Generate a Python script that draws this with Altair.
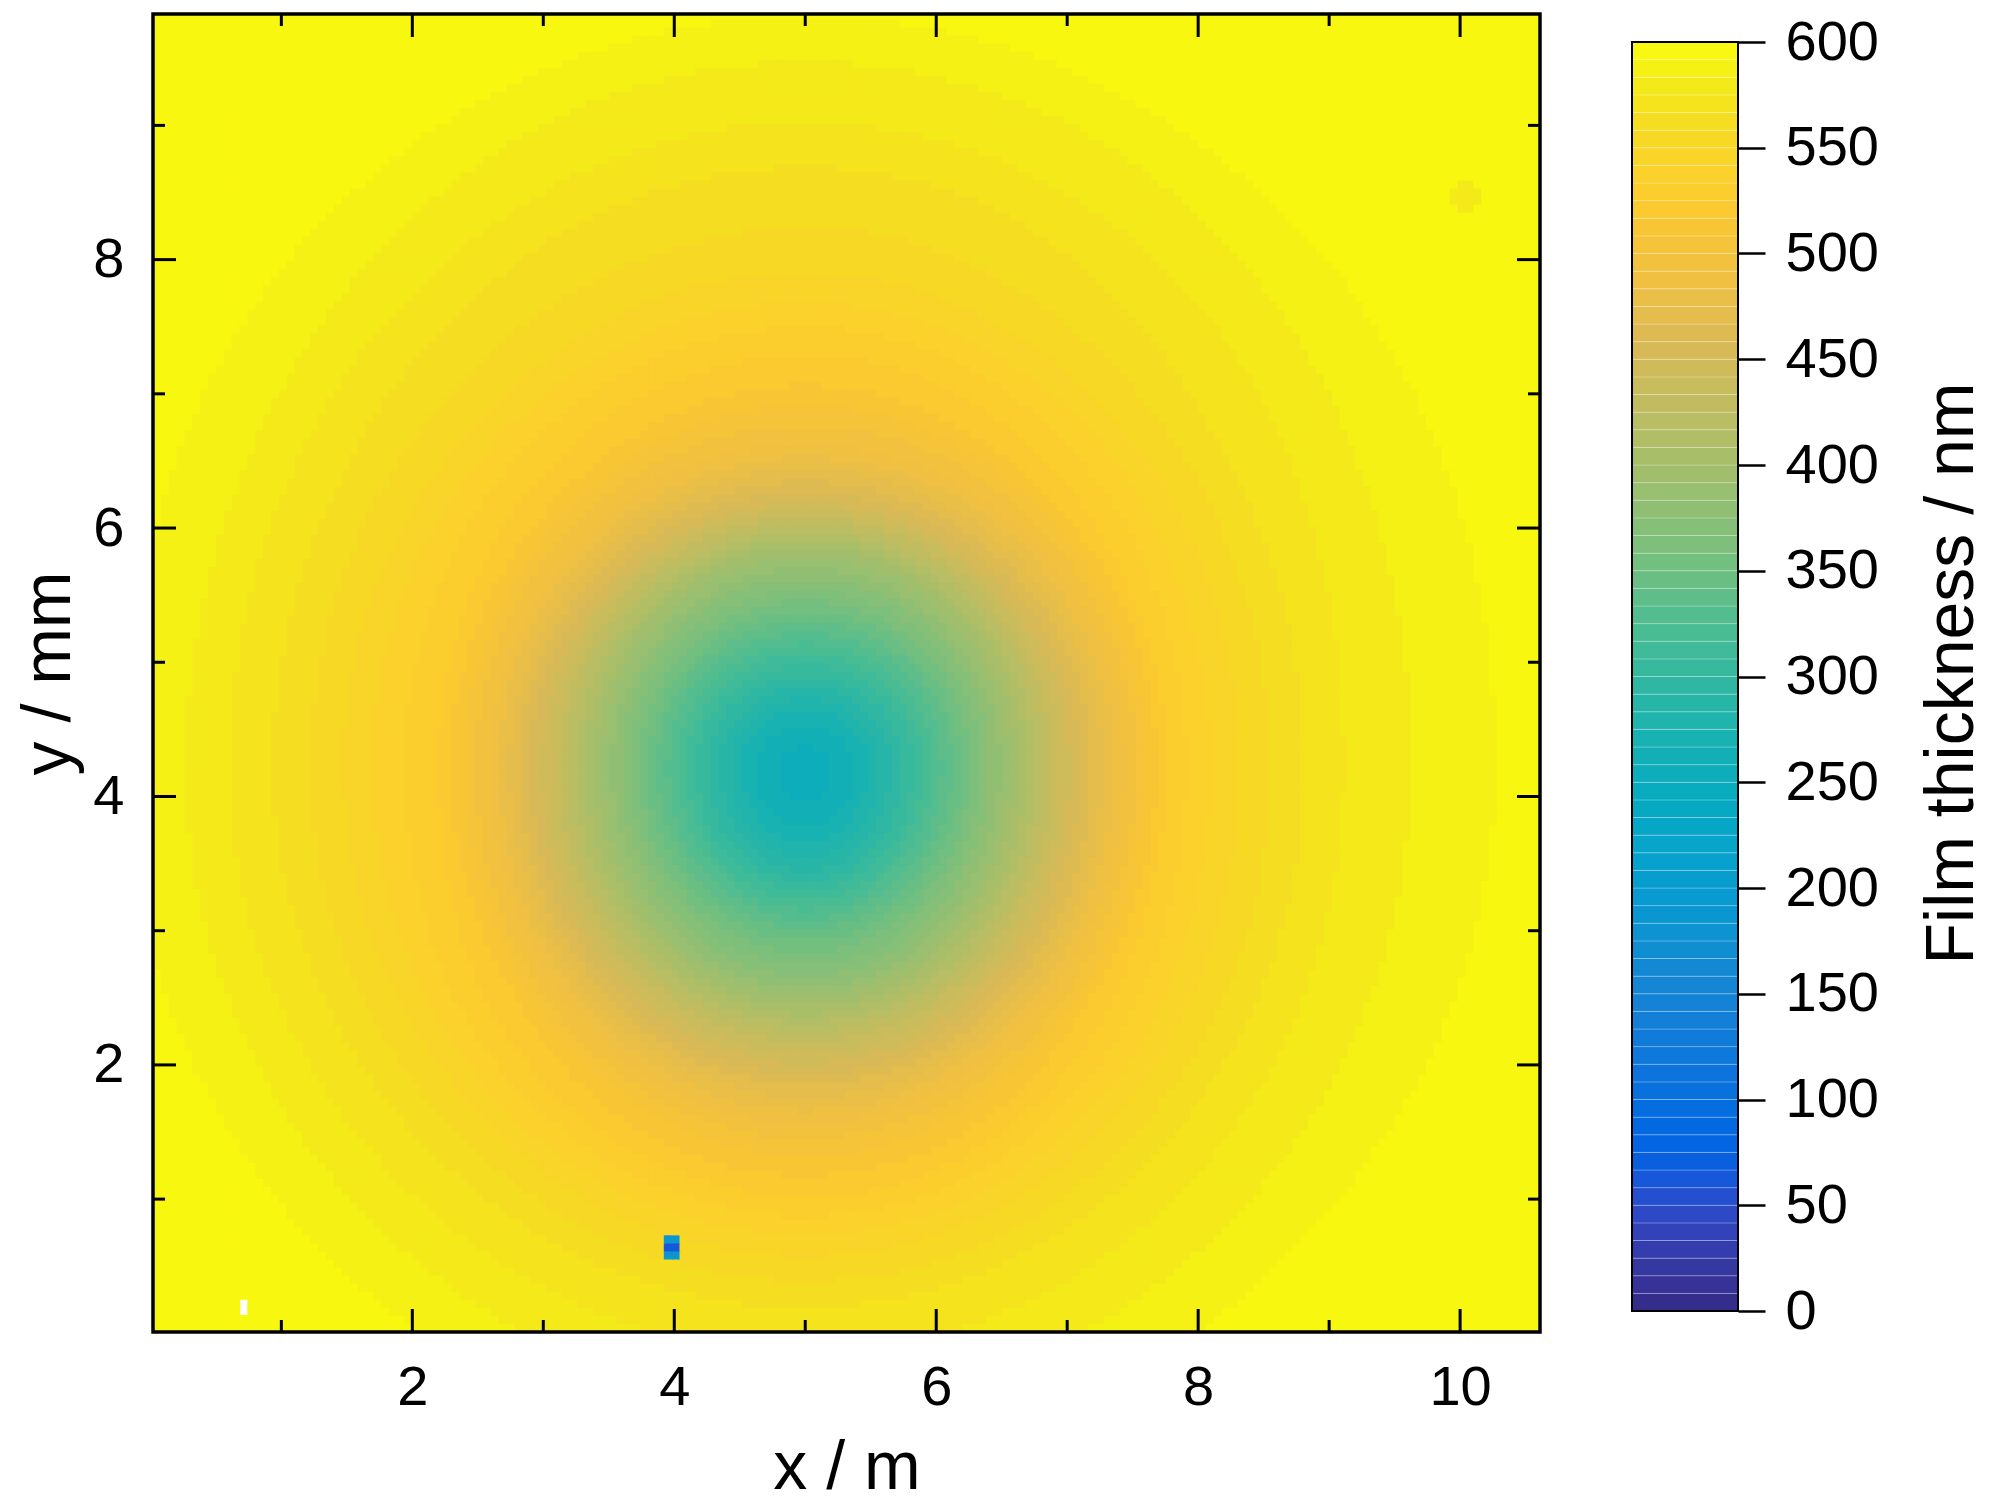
import numpy as np
import pandas as pd
import altair as alt

# ---------------- data ----------------
# film-thickness profiles (nm) along four directions from the film centre
radius_mm = [0, 0.4, 0.8, 1.2, 1.6, 2.0, 2.4, 2.8, 3.2, 3.6, 4.0, 4.4, 4.8, 5.2, 5.6, 6.5, 8.0]
left_nm = [250, 268, 305, 350, 398, 448, 490, 525, 538, 553, 565, 575, 585, 592, 596, 600, 600]
right_nm = [250, 268, 305, 350, 398, 448, 488, 528, 546, 560, 573, 580, 586, 591, 595, 600, 600]
up_nm = [250, 272, 312, 355, 395, 455, 492, 515, 530, 548, 558, 565, 575, 582, 592, 600, 600]
down_nm = [250, 262, 294, 341, 378, 428, 470, 503, 525, 548, 566, 576, 585, 593, 598, 600, 600]
centre_x = 5.0
centre_y = 4.22

# local defects (x mm, y mm, radius mm, thickness nm; NaN = no data)
defect_x = [3.98, 3.98, 10.04, 0.70]
defect_y = [0.65, 0.65, 8.48, 0.19]
defect_r = [0.08, 0.04, 0.12, 0.05]
defect_v = [190, 60, 578, np.nan]

x_ticks_major = [2, 4, 6, 8, 10]
x_ticks_minor = [1, 3, 5, 7, 9]
y_ticks_major = [2, 4, 6, 8]
y_ticks_minor = [1, 3, 5, 7, 9]
cbar_ticks = list(range(0, 601, 50))

x_domain = [0.02, 10.61]
y_domain = [0.01, 9.83]
n_levels = 72
v_max = 600

# parula-like colormap as seen on the reference colour bar (styling)
PARULA = [
    (0.2081, 0.1663, 0.5292), (0.2116, 0.1898, 0.5777), (0.2123, 0.2138, 0.6270), (0.2081, 0.2386, 0.6771),
    (0.1959, 0.2645, 0.7279), (0.1707, 0.2919, 0.7792), (0.1253, 0.3242, 0.8303), (0.0591, 0.3598, 0.8683),
    (0.0117, 0.3875, 0.8820), (0.0060, 0.4086, 0.8828), (0.0165, 0.4266, 0.8786), (0.0329, 0.4430, 0.8720),
    (0.0498, 0.4586, 0.8641), (0.0629, 0.4737, 0.8554), (0.0723, 0.4887, 0.8467), (0.0779, 0.5040, 0.8384),
    (0.0793, 0.5200, 0.8312), (0.0749, 0.5375, 0.8263), (0.0641, 0.5570, 0.8240), (0.0488, 0.5772, 0.8228),
    (0.0343, 0.5966, 0.8199), (0.0265, 0.6137, 0.8135), (0.0239, 0.6287, 0.8038), (0.0231, 0.6418, 0.7913),
    (0.0228, 0.6535, 0.7768), (0.0267, 0.6642, 0.7607), (0.0384, 0.6743, 0.7436), (0.0590, 0.6838, 0.7254),
    (0.0843, 0.6928, 0.7062), (0.1133, 0.7015, 0.6859), (0.1453, 0.7098, 0.6646), (0.1801, 0.7177, 0.6424),
    (0.2178, 0.7250, 0.6193), (0.2586, 0.7317, 0.5954), (0.3022, 0.7376, 0.5712), (0.3482, 0.7424, 0.5473),
    (0.3953, 0.7459, 0.5244), (0.4420, 0.7481, 0.5033), (0.4871, 0.7491, 0.4840), (0.5300, 0.7491, 0.4661),
    (0.5709, 0.7485, 0.4494), (0.6099, 0.7473, 0.4337), (0.6473, 0.7456, 0.4188), (0.6834, 0.7435, 0.4044),
    (0.7184, 0.7411, 0.3905), (0.7525, 0.7384, 0.3768), (0.7858, 0.7356, 0.3633), (0.8185, 0.7327, 0.3498),
    (0.8507, 0.7299, 0.3360), (0.8824, 0.7370, 0.3100), (0.9100, 0.7450, 0.2860), (0.9330, 0.7530, 0.2630),
    (0.9490, 0.7570, 0.2430), (0.9650, 0.7690, 0.2240), (0.9760, 0.7800, 0.2000), (0.9840, 0.7960, 0.1840),
    (0.9840, 0.8110, 0.1700), (0.9789, 0.8271, 0.1633), (0.9697, 0.8481, 0.1475), (0.9626, 0.8705, 0.1309),
    (0.9589, 0.8949, 0.1132), (0.9598, 0.9218, 0.0948), (0.9661, 0.9514, 0.0755), (0.9763, 0.9831, 0.0538),
]
PARULA_HEX = ["#%02x%02x%02x" % tuple(int(round(c * 255)) for c in rgb) for rgb in PARULA]

# ---------------- table for the filled-contour map ----------------
cell = 0.06
xc = np.arange(x_domain[0], x_domain[1], cell)
yc = np.arange(y_domain[0], y_domain[1], cell)
X, Y = np.meshgrid(xc, yc)
CX, CY = X + cell / 2, Y + cell / 2
dx, dy = CX - centre_x, CY - centre_y
r = np.hypot(dx, dy)
h_prof = np.where(dx < 0, np.interp(r, radius_mm, left_nm), np.interp(r, radius_mm, right_nm))
v_prof = np.where(dy > 0, np.interp(r, radius_mm, up_nm), np.interp(r, radius_mm, down_nm))
wx = dx ** 2 / np.maximum(r ** 2, 1e-9)
field = wx * h_prof + (1 - wx) * v_prof
for fx, fy, fr, fv in zip(defect_x, defect_y, defect_r, defect_v):
    field[np.hypot(CX - fx, CY - fy) < fr] = fv
band = v_max / n_levels
level = (np.floor(field / band) + 0.5) * band
level = np.clip(level, band / 2, v_max - band / 2)

df = pd.DataFrame({"x": X.ravel().round(3), "y": Y.ravel().round(3), "v": level.ravel().round(2)}).dropna()

# colour-bar stripes
cb_lo = [k * band for k in range(n_levels)]
cb_df = pd.DataFrame({"lo": cb_lo, "hi": [v + band for v in cb_lo], "mid": [v + band / 2 for v in cb_lo],
                      "x0": 0, "x1": 1})
cb_frame = pd.DataFrame({"lo": [0], "hi": [v_max], "x0": [0], "x1": [1]})

# ---------------- chart ----------------
FONT = "Liberation Sans"
W, H = 1387, 1318
LAB = 56
TIT = 68

xs = alt.Scale(domain=x_domain, nice=False, zero=False)
ys = alt.Scale(domain=y_domain, nice=False, zero=False)
cs = alt.Scale(domain=[0, v_max], range=PARULA_HEX, type="linear", interpolate="rgb")

x_axis = alt.Axis(
    values=x_ticks_major, ticks=False, domain=False, grid=False,
    labelFont=FONT, labelFontSize=LAB, labelColor="black", labelPadding=28, labelFlush=False,
    title="x / m", titleFont=FONT, titleFontSize=TIT, titleFontWeight="normal", titleColor="black",
    titleY=156, titleBaseline="alphabetic")
y_axis = alt.Axis(
    values=y_ticks_major, ticks=False, domain=False, grid=False,
    labelFont=FONT, labelFontSize=LAB, labelColor="black", labelPadding=29, labelFlush=False,
    title="y / mm", titleFont=FONT, titleFontSize=TIT, titleFontWeight="normal", titleColor="black",
    titleX=-104, titleY=H / 2, titleAngle=270, titleAlign="center", titleBaseline="middle")

heat = alt.Chart(df).transform_calculate(
    x2=f"datum.x + {cell + 0.007}", y2=f"datum.y + {cell + 0.007}"
).mark_rect(clip=True).encode(
    x=alt.X("x:Q", scale=xs, axis=x_axis),
    x2="x2:Q",
    y=alt.Y("y:Q", scale=ys, axis=y_axis),
    y2="y2:Q",
    color=alt.Color("v:Q", scale=cs, legend=None),
)


def x_ticks(vals, length, width):
    d = pd.DataFrame({"t": vals})
    base = alt.Chart(d).mark_rule(color="black", strokeWidth=width)
    bottom = base.encode(x=alt.X("t:Q", scale=xs, axis=x_axis), y=alt.value(H), y2=alt.value(H - length))
    top = base.encode(x=alt.X("t:Q", scale=xs, axis=x_axis), y=alt.value(0), y2=alt.value(length))
    return [bottom, top]


def y_ticks(vals, length, width):
    d = pd.DataFrame({"t": vals})
    base = alt.Chart(d).mark_rule(color="black", strokeWidth=width)
    left = base.encode(y=alt.Y("t:Q", scale=ys, axis=y_axis), x=alt.value(0), x2=alt.value(length))
    right = base.encode(y=alt.Y("t:Q", scale=ys, axis=y_axis), x=alt.value(W), x2=alt.value(W - length))
    return [left, right]


frame = alt.Chart(pd.DataFrame({"a": [0]})).mark_rect(
    fillOpacity=0, stroke="black", strokeWidth=3.5
).encode(x=alt.value(0), x2=alt.value(W), y=alt.value(0), y2=alt.value(H))

main = alt.layer(
    heat,
    *x_ticks(x_ticks_major, 23, 3), *x_ticks(x_ticks_minor, 12, 3),
    *y_ticks(y_ticks_major, 23, 3), *y_ticks(y_ticks_minor, 12, 3),
    frame,
).properties(width=W, height=H)

cb_y = alt.Scale(domain=[0, v_max], range=[1297, 28], nice=False, zero=False)
cb_x = alt.Scale(domain=[0, 1], nice=False)
cb_axis = alt.Axis(
    orient="right", values=cbar_ticks, tickSize=27, tickWidth=2.5, tickColor="black",
    domain=False, grid=False, labelFont=FONT, labelFontSize=LAB, labelColor="black",
    labelPadding=20, labelFlush=False, labelOverlap=False,
    title="Film thickness / nm", titleFont=FONT, titleFontSize=TIT, titleFontWeight="normal",
    titleColor="black", titleX=214, titleY=H / 2, titleAngle=270, titleAlign="center",
    titleBaseline="middle")

stripes = alt.Chart(cb_df).mark_rect(stroke="white", strokeOpacity=0.3, strokeWidth=0.8).encode(
    x=alt.X("x0:Q", scale=cb_x, axis=None),
    x2="x1:Q",
    y=alt.Y("lo:Q", scale=cb_y, axis=cb_axis),
    y2="hi:Q",
    color=alt.Color("mid:Q", scale=cs, legend=None),
)
cb_border = alt.Chart(cb_frame).mark_rect(fillOpacity=0, stroke="black", strokeWidth=2).encode(
    x=alt.X("x0:Q", scale=cb_x, axis=None), x2="x1:Q",
    y=alt.Y("lo:Q", scale=cb_y, axis=cb_axis), y2="hi:Q",
)
colorbar = alt.layer(stripes, cb_border).properties(width=106, height=H)

chart = alt.hconcat(main, colorbar, spacing=89).properties(
    padding={"left": 7, "top": 4, "right": 3, "bottom": 2}, background="white"
).configure_view(stroke=None)

chart.save("out.html", embed_options={"renderer": "svg", "actions": False})
